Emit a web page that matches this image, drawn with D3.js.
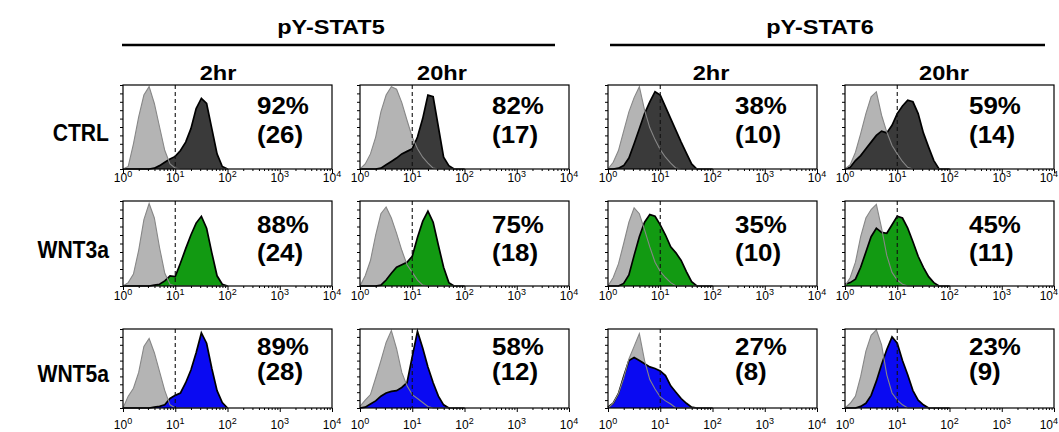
<!DOCTYPE html>
<html><head><meta charset="utf-8">
<script src="https://cdn.jsdelivr.net/npm/d3@7"></script>
<style>body{margin:0;background:#fff} svg{display:block} text{font-family:"Liberation Sans",Arial,sans-serif}</style>
</head><body>
<svg id="c" width="1059" height="432"></svg>
<script>
// ---------------- DATA ----------------
const markers = ["pY-STAT5", "pY-STAT6"];
const times = ["2hr", "20hr", "2hr", "20hr"];
const treatments = ["CTRL", "WNT3a", "WNT5a"];
const percents = [[92, 82, 38, 59], [88, 75, 35, 45], [89, 58, 27, 23]];
const mfis = [[26, 17, 10, 14], [24, 18, 10, 11], [28, 12, 8, 9]];
const decades = [0, 1, 2, 3, 4];
const gateValue = 10;
// histogram bins: log10 fluorescence, 0.0 .. 2.0
const logBins = [0, 0.1, 0.2, 0.3, 0.4, 0.5, 0.6, 0.7, 0.8, 0.9, 1.0, 1.1, 1.2, 1.3, 1.4, 1.5, 1.6, 1.7, 1.8, 1.9, 2.0];

// isotype (grey) histograms, relative counts
const isoCtrlS5_2h  = [0,0.03,0.3,0.62,0.88,0.98,0.78,0.5,0.22,0.06,0.01,0,0,0,0,0,0,0,0,0,0];
const isoCtrlS5_20h = [0,0.06,0.18,0.38,0.68,0.88,0.98,0.95,0.79,0.58,0.38,0.24,0.14,0.07,0.01,0,0,0,0,0,0];
const isoCtrlS6_2h  = [0,0.08,0.22,0.45,0.68,0.85,0.98,0.7,0.49,0.35,0.23,0.14,0.07,0.01,0,0,0,0,0,0,0];
const isoCtrlS6_20h = [0,0.05,0.2,0.42,0.66,0.86,0.92,0.64,0.44,0.28,0.18,0.09,0.02,0,0,0,0,0,0,0,0];
const isoW3S5_2h    = [0,0.04,0.14,0.42,0.78,0.97,0.8,0.45,0.15,0.02,0,0,0,0,0,0,0,0,0,0,0];
const isoW3S5_20h   = [0,0.12,0.3,0.6,0.85,0.93,0.8,0.62,0.42,0.25,0.16,0.07,0.01,0,0,0,0,0,0,0,0];
const isoW3S6_2h    = [0,0.1,0.26,0.5,0.75,0.92,0.85,0.66,0.46,0.28,0.17,0.1,0.04,0,0,0,0,0,0,0,0];
const isoW3S6_20h   = [0,0.1,0.28,0.58,0.8,0.9,0.96,0.68,0.36,0.16,0.07,0.02,0,0,0,0,0,0,0,0,0];
const isoW5S5_2h    = [0,0.15,0.25,0.45,0.78,0.88,0.7,0.46,0.22,0.04,0,0,0,0,0,0,0,0,0,0,0];
const isoW5S5_20h   = [0.02,0.1,0.17,0.38,0.6,0.83,0.98,0.75,0.45,0.28,0.17,0.12,0.07,0.02,0,0,0,0,0,0,0];
const isoW5S6_2h    = [0,0.06,0.18,0.38,0.62,0.78,0.94,0.6,0.36,0.24,0.14,0.09,0.05,0,0,0,0,0,0,0,0];
const isoW5S6_20h   = [0,0.06,0.15,0.4,0.72,0.92,0.99,0.8,0.42,0.19,0.1,0.04,0,0,0,0,0,0,0,0,0];

// stained sample histograms, relative counts
const smpCtrlS5_2h  = [0,0,0,0,0,0,0.01,0.04,0.08,0.12,0.15,0.22,0.32,0.48,0.72,0.84,0.78,0.48,0.18,0.03,0];
const smpCtrlS5_20h = [0,0,0,0,0.01,0.05,0.09,0.13,0.18,0.21,0.24,0.38,0.6,0.88,0.86,0.5,0.14,0.04,0,0,0];
const smpCtrlS6_2h  = [0,0,0.01,0.04,0.13,0.3,0.48,0.66,0.8,0.92,0.88,0.74,0.6,0.46,0.32,0.19,0.06,0,0,0,0];
const smpCtrlS6_20h = [0,0.02,0.1,0.16,0.24,0.32,0.4,0.45,0.43,0.52,0.66,0.75,0.82,0.8,0.66,0.43,0.26,0.1,0,0,0];
const smpW3S5_2h    = [0,0,0,0,0,0,0.01,0.02,0.06,0.12,0.11,0.27,0.44,0.6,0.74,0.82,0.68,0.39,0.12,0.02,0];
const smpW3S5_20h   = [0,0,0,0,0.01,0.07,0.15,0.22,0.25,0.28,0.35,0.57,0.76,0.88,0.75,0.48,0.22,0.04,0,0,0];
const smpW3S6_2h    = [0,0,0,0.03,0.13,0.36,0.58,0.75,0.84,0.82,0.72,0.6,0.46,0.39,0.3,0.17,0.05,0,0,0,0];
const smpW3S6_20h   = [0.02,0.04,0.08,0.22,0.4,0.58,0.68,0.63,0.62,0.72,0.82,0.8,0.68,0.52,0.35,0.22,0.11,0.04,0,0,0];
const smpW5S5_2h    = [0,0,0,0,0,0,0.01,0.02,0.04,0.12,0.16,0.19,0.32,0.48,0.7,0.95,0.82,0.5,0.22,0.07,0];
const smpW5S5_20h   = [0,0.01,0.05,0.09,0.15,0.19,0.21,0.22,0.26,0.32,0.65,0.97,0.76,0.52,0.32,0.15,0.04,0,0,0,0];
const smpW5S6_2h    = [0.01,0.06,0.18,0.4,0.6,0.64,0.6,0.56,0.52,0.5,0.47,0.41,0.28,0.2,0.12,0.06,0.01,0,0,0,0];
const smpW5S6_20h   = [0,0,0,0.02,0.06,0.16,0.34,0.55,0.74,0.9,0.82,0.6,0.42,0.22,0.1,0.04,0,0,0,0,0];

const isoGrid = [
  [isoCtrlS5_2h, isoCtrlS5_20h, isoCtrlS6_2h, isoCtrlS6_20h],
  [isoW3S5_2h, isoW3S5_20h, isoW3S6_2h, isoW3S6_20h],
  [isoW5S5_2h, isoW5S5_20h, isoW5S6_2h, isoW5S6_20h]
];
const smpGrid = [
  [smpCtrlS5_2h, smpCtrlS5_20h, smpCtrlS6_2h, smpCtrlS6_20h],
  [smpW3S5_2h, smpW3S5_20h, smpW3S6_2h, smpW3S6_20h],
  [smpW5S5_2h, smpW5S5_20h, smpW5S6_2h, smpW5S6_20h]
];

// ---------------- LAYOUT ----------------
const colX = [123, 360, 608, 845];
const colW = 209;
const rowY = [85, 201, 329];
const rowH = [84, 85, 79];
const labelGap = [13, 14, 21];
const textDX = [134, 132, 127, 124];
const textDY = [[29, 58], [32, 60], [26, 51]];
const rowFill = ["#3a3a3a", "#129a12", "#0a0af2"];
const W = 1059;

const svg = d3.select("#c");

function stretchedText(sel, x, y, str, size, sx, anchor) {
  return sel.append("text")
    .attr("transform", `translate(${x},${y}) scale(${sx},1)`)
    .attr("text-anchor", anchor || "start")
    .attr("font-size", size).attr("font-weight", "bold").text(str);
}

// headers
const headerCx = [331, 820];
const headerLine = [[122, 555], [610, 1045]];
markers.forEach((m, i) => {
  stretchedText(svg, headerCx[i], 34, m, 21, 1.12, "middle");
  svg.append("line").attr("x1", headerLine[i][0]).attr("x2", headerLine[i][1])
    .attr("y1", 45).attr("y2", 45).attr("stroke", "#000").attr("stroke-width", 2.5);
});
const timeCx = [218, 442, 711, 944];
times.forEach((t, i) => stretchedText(svg, timeCx[i], 80, t, 20, 1.18, "middle"));
const rowLabelY = [141, 258, 382];
treatments.forEach((t, i) => stretchedText(svg, 109, rowLabelY[i], t, 24, 0.88, "end"));

for (let r = 0; r < 3; r++) {
  for (let c = 0; c < 4; c++) {
    const w = colW, h = rowH[r];
    const g = svg.append("g").attr("transform", `translate(${colX[c]},${rowY[r]})`);
    const x = d3.scaleLog().domain([1, 1e4]).range([0, w]);
    const y = d3.scaleLinear().domain([0, 1]).range([h, 0]);
    const iso = logBins.map((b, i) => ({ f: Math.pow(10, b), v: isoGrid[r][c][i] }));
    const smp = logBins.map((b, i) => ({ f: Math.pow(10, b), v: smpGrid[r][c][i] }));
    const area = d3.area().x(d => x(d.f)).y0(h).y1(d => y(d.v));
    const line = d3.line().x(d => x(d.f)).y(d => y(d.v));

    g.append("path").attr("d", area(iso)).attr("fill", "#b4b4b4");
    g.append("path").attr("d", area(smp)).attr("fill", rowFill[r]);
    g.append("path").attr("d", line(smp)).attr("fill", "none").attr("stroke", "#000").attr("stroke-width", 1.7);
    g.append("path").attr("d", line(iso)).attr("fill", "none").attr("stroke", "#878787").attr("stroke-width", 1.1);

    g.append("line").attr("x1", x(gateValue)).attr("x2", x(gateValue)).attr("y1", 0).attr("y2", h)
      .attr("stroke", "#111").attr("stroke-width", 1.1).attr("stroke-dasharray", "4,3");

    g.append("rect").attr("x", 0).attr("y", 0).attr("width", w).attr("height", h)
      .attr("fill", "none").attr("stroke", "#000").attr("stroke-width", 1.2);

    // left ticks
    const ga = g.append("g").call(d3.axisLeft(y).tickValues(d3.range(0, 1.0001, 0.1)).tickSize(3).tickFormat(""));
    ga.select(".domain").remove();

    // bottom ticks
    const minors = [];
    decades.slice(0, -1).forEach(d => { for (let k = 2; k < 10; k++) minors.push(k * Math.pow(10, d)); });
    const gb = g.append("g").attr("transform", `translate(0,${h})`)
      .call(d3.axisBottom(x).tickValues(minors).tickSize(2).tickFormat(""));
    gb.select(".domain").remove();
    const gm = g.append("g").attr("transform", `translate(0,${h})`)
      .call(d3.axisBottom(x).tickValues(decades.map(d => Math.pow(10, d))).tickSize(4).tickFormat(""));
    gm.select(".domain").remove();

    decades.forEach(d => {
      const t = g.append("text").attr("x", x(Math.pow(10, d))).attr("y", h + labelGap[r])
        .attr("text-anchor", "middle").attr("font-size", 12).attr("fill", "#000");
      t.append("tspan").text("10");
      t.append("tspan").attr("dy", -5).attr("font-size", 9).text(d);
      // keep the label inside the picture
      const bb = t.node().getBBox();
      const absRight = colX[c] + bb.x + bb.width;
      if (absRight > W - 1) t.attr("x", +t.attr("x") - (absRight - (W - 1)));
    });

    stretchedText(g, textDX[c], textDY[r][0], percents[r][c] + "%", 24, 1.08);
    stretchedText(g, textDX[c], textDY[r][1], "(" + mfis[r][c] + ")", 24, 1.08);
  }
}
</script>
</body></html>
